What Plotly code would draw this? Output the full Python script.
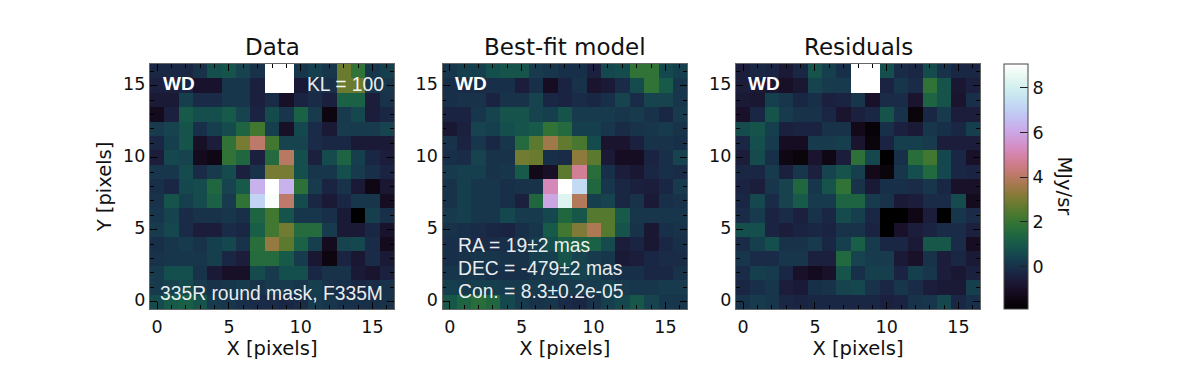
import math
import plotly.graph_objects as go

X_CELLS = list(range(17))
Y_CELLS = list(range(17))
W = None

# rows listed from y=16 (top) down to y=0
data_rows = [
 [-0.25,-0.25,-0.25,0.05,0.75,0.85,0.45,0.05,W,W,0.15,0.35,0.15,2.8,1.9,0.15,0.35],
 [-0.45,-0.45,-0.35,-0.9,-0.9,0.15,0.15,-0.45,W,W,-0.65,-0.05,-0.05,2.8,2.8,0.15,0.15],
 [-0.65,-0.65,0.35,-0.15,-0.15,0.15,0.15,-0.45,-0.15,-1.0,-0.35,-0.15,-0.45,1.25,1.25,-0.55,0.05],
 [-1.2,-0.45,1.05,0.75,0.75,1.05,0.45,-0.35,0.65,0.15,1.25,0.25,-1.5,0.25,0.55,-0.55,-0.25],
 [0.25,0.45,0.85,-0.05,0.35,0.65,1.35,2.2,0.35,-1.0,0.55,-0.15,-0.65,0.25,0.25,0.25,0.45],
 [-0.25,0.35,0.85,-1.0,-0.55,1.9,3.0,4.1,2.2,0.45,0.45,-0.15,-0.25,-0.25,-0.65,-0.65,-0.65],
 [-0.55,0.55,0.45,-1.2,-1.4,1.9,1.45,-0.45,1.55,4.0,0.75,-0.45,0.65,1.35,0.35,-0.25,-0.55],
 [0.15,0.15,0.65,-0.15,0.25,0.65,-0.45,0.05,3.0,3.0,0.75,0.15,0.15,0.75,0.25,-0.05,-0.35],
 [-0.05,-0.25,0.55,0.65,1.45,0.45,1.05,6.3,9.5,6.3,1.8,0.25,-0.35,0.05,-0.65,-1.4,-0.75],
 [0.05,0.85,0.35,0.65,1.25,0.25,1.9,7.1,8.9,4.1,0.65,-0.25,-0.65,-0.25,0.15,0.15,-1.1],
 [0.15,0.45,-0.15,0.05,0.05,0.15,-0.05,1.35,2.2,0.85,0.15,0.15,-0.05,-0.65,-1.9,0.35,-0.05],
 [0.25,0.55,-0.15,-0.55,-0.55,-0.15,-0.25,1.15,2.2,2.9,1.6,1.6,0.25,-0.65,-0.65,-0.25,-0.9],
 [-0.05,0.15,0.25,0.05,0.35,0.55,0.05,1.7,3.4,2.6,1.25,0.35,-1.2,0.45,0.55,-0.15,-1.2],
 [0.05,0.15,0.15,0.15,0.35,-0.25,-0.55,1.6,1.6,1.05,0.25,-0.75,-1.5,-0.35,-0.75,-0.15,-0.65],
 [0.25,0.75,0.75,0.05,-0.65,-1.0,-1.0,0.65,0.25,0.75,0.75,-0.25,0.05,0.05,-0.65,-0.85,-0.45],
 [0.25,0.45,0.65,0.25,0.05,0.15,0.25,0.05,0.25,0.25,0.15,0.35,0.05,-0.05,-0.25,-0.15,0.05],
 [0.65,1.05,1.15,0.85,0.25,0.15,-0.05,-0.15,-0.15,-0.25,-0.15,0.25,0.15,-0.05,-0.05,-0.05,0.05],
]
model_rows = [
 [0.15,0.35,0.35,0.75,0.85,0.85,0.25,0.15,-0.05,-0.05,-0.45,0.55,0.65,1.9,1.9,0.55,0.35],
 [-0.05,-0.15,-0.15,-0.05,-0.05,-0.55,-0.05,-1.1,-0.35,0.05,-0.85,-0.65,-0.15,0.65,1.9,1.05,0.15],
 [-0.05,0.05,0.05,-0.35,0.05,0.05,0.45,-0.25,-0.35,-0.15,-0.25,-0.05,0.45,-0.15,0.45,0.45,0.15],
 [-0.35,-0.35,0.15,0.45,0.85,0.85,0.45,0.35,0.85,0.25,0.25,0.25,0.15,0.25,0.05,-0.25,0.25],
 [-0.75,-0.45,0.45,0.35,0.75,0.85,1.05,1.9,1.55,0.35,0.35,0.15,-0.15,0.05,0.15,0.25,0.05],
 [0.05,-0.35,0.15,-0.25,0.15,1.55,2.6,3.6,2.7,2.3,0.65,-0.85,-0.85,-0.45,0.05,0.05,-0.05],
 [-0.05,-0.15,0.45,0.05,0.05,2.9,2.8,-0.05,-0.15,3.3,2.6,-0.65,-1.1,-1.1,-0.35,-0.05,0.45],
 [0.25,0.35,0.35,0.05,0.15,1.05,-1.3,-1.0,2.6,4.7,1.7,-0.05,-0.55,-0.75,-0.25,-0.05,-0.15],
 [0.05,0.35,0.15,0.15,-0.05,0.05,0.05,5.2,9.5,7.3,1.45,0.15,-0.25,-0.45,-0.55,-0.25,0.25],
 [0.05,0.35,0.15,0.15,-0.05,-0.45,1.45,6.0,8.3,3.9,0.35,0.45,-0.25,0.05,-0.65,-0.05,0.05],
 [0.25,0.35,0.15,0.15,0.55,0.25,0.25,0.55,1.45,0.95,2.5,2.5,1.05,0.15,0.15,0.15,0.15],
 [0.05,-0.05,-0.15,-0.25,-0.35,-0.05,0.15,1.05,2.2,3.1,3.8,2.5,0.85,0.05,-0.75,-0.05,0.05],
 [-0.05,-0.05,-0.15,-0.15,-0.05,0.05,0.25,0.75,1.15,1.25,1.25,0.65,-0.55,-0.35,-0.75,-0.25,-0.05],
 [-0.05,0.05,0.15,0.15,0.05,0.05,0.35,0.35,0.85,0.45,0.25,0.15,-0.65,-0.55,-0.25,-0.15,-0.15],
 [0.15,0.15,0.15,-0.05,-0.05,-0.05,0.15,0.25,0.35,0.45,0.35,0.15,-0.05,-0.05,-0.25,-0.25,0.05],
 [0.35,0.25,0.35,0.35,0.25,0.25,0.25,0.15,0.25,0.25,0.25,0.35,0.25,0.15,0.15,0.25,0.25],
 [0.95,1.35,1.7,1.45,0.55,0.25,0.05,0.15,-0.15,-0.25,0.05,0.35,0.55,0.95,0.45,0.15,0.15],
]
resid_rows = [
 [-0.55,-0.25,-0.35,-0.65,-0.25,0.85,0.35,-0.05,W,W,0.75,-0.15,-0.25,0.65,0.05,-0.25,-0.25],
 [-0.55,-0.65,-0.75,-1.0,-0.75,0.45,0.25,0.25,W,W,-0.35,0.15,-0.15,1.9,0.85,-0.75,-0.45],
 [-0.65,-0.75,0.35,0.15,-0.25,-0.05,-0.45,-0.35,0.15,-0.95,-0.15,-0.15,-0.85,1.35,0.85,-0.85,-0.05],
 [-0.95,-0.25,0.85,0.25,0.05,0.05,-0.25,-0.85,-0.45,-0.25,0.85,0.05,-1.6,-0.25,0.25,-0.55,-0.55],
 [0.65,0.85,0.35,-0.45,-0.35,-0.35,0.05,0.05,-1.3,-1.7,-0.05,-0.45,-0.65,0.15,-0.05,-0.25,0.35],
 [-0.25,0.75,0.25,-1.1,-1.1,0.25,0.25,0.35,-0.85,-1.6,-0.35,0.35,0.35,0.25,-0.55,-0.55,-0.55],
 [-0.55,0.65,-0.05,-1.4,-1.6,-0.85,-1.4,-0.55,1.8,0.55,-2,-0.05,1.7,2.2,0.55,-0.25,-0.95],
 [-0.25,-0.25,0.25,-0.45,0.15,-0.45,0.45,0.85,0.35,-1.3,-1.6,0.15,0.75,1.5,0.55,-0.25,-0.35],
 [-0.35,-0.55,0.15,0.45,1.45,0.15,0.85,1.9,0.05,-0.65,-0.05,-0.05,-0.15,0.15,-0.25,-0.95,-0.95],
 [-0.25,0.55,-0.15,0.45,1.05,0.25,0.25,1.35,1.35,0.25,0.05,-0.65,-0.55,-0.15,-0.15,0.65,-1.2],
 [-0.15,0.25,-0.35,-0.15,-0.45,0.05,-0.25,0.65,0.35,-0.25,-2,-2,-1.4,-0.55,-2,0.15,-0.15],
 [0.75,0.75,-0.35,-0.55,-0.35,-0.25,-0.35,0.05,0.05,-0.35,-2,-0.95,-0.55,-0.35,-0.15,-0.15,-0.45],
 [-0.15,0.35,0.75,0.05,0.05,0.25,-0.25,0.35,1.15,0.25,-0.25,-0.25,-0.65,0.95,0.95,-0.15,-1.1],
 [0.15,-0.15,-0.15,0.15,0.15,-0.45,-0.45,1.5,0.45,0.25,0.25,-0.65,-0.95,0.05,-0.55,-0.25,-0.65],
 [-0.15,0.35,0.25,-0.25,-0.95,-1.2,-0.95,0.85,-0.05,0.35,0.35,-0.35,0.35,0.15,-0.55,-0.75,-0.45],
 [-0.25,-0.05,0.15,-0.55,-0.65,-0.05,0.05,0.45,0.55,0.05,-0.25,0.15,-0.15,-0.55,-0.65,-0.65,0.35],
 [0.05,0.25,0.15,-0.25,-0.35,-0.25,-0.25,-0.25,-0.25,-0.25,-0.45,-0.35,0.05,0.15,0.55,-0.25,-0.05],
]

TITLES = ["Data", "Best-fit model", "Residuals"]
XTITLE = "X [pixels]"
YTITLE = "Y [pixels]"
CBAR_TITLE = "MJy/sr"
CBAR_TICKS = [0, 2, 4, 6, 8]
CBAR_MINOR = [-1.5, -1, -0.5, 0.5, 1, 1.5, 2.5, 3, 3.5, 4.5, 5, 5.5, 6.5, 7, 7.5, 8.5, 9]
ZMIN, ZMAX = -1.89, 9.06
SIZE_W, SIZE_H = 1196, 384
PANEL_X = [(150, 394), (442.5, 687), (736, 980)]
PANEL_Y = (64, 309)


def cubehelix(n=64, g=1.0, s=0.5, r=-1.5, h=1.0):
    out = []
    for i in range(n):
        x = i / (n - 1)
        phi = 2 * math.pi * (s / 3 + r * x)
        xg = x ** g
        a = h * xg * (1 - xg) / 2
        c, sn = math.cos(phi), math.sin(phi)
        R = xg + a * (-0.14861 * c + 1.78277 * sn)
        G = xg + a * (-0.29227 * c - 0.90649 * sn)
        B = xg + a * (1.97294 * c)
        clip = lambda v: int(round(255 * min(1, max(0, v))))
        out.append([x, f"rgb({clip(R)},{clip(G)},{clip(B)})"])
    return out


SCALE = cubehelix()
fig = go.Figure()
TICK = "#000"
FONT = "DejaVu Sans"
LABEL_SIZE = 19.5
TICK_SIZE = 17.5
CB_POS = dict(x=1004 / SIZE_W, xanchor="left", xref="paper", y=1 - 309 / SIZE_H, yanchor="bottom",
              yref="paper", len=245 / SIZE_H, lenmode="fraction", thickness=24, thicknessmode="pixels",
              xpad=0, ypad=0)
for i, rows in enumerate([data_rows, model_rows, resid_rows]):
    sx = "" if i == 0 else str(i + 1)
    fig.add_trace(go.Heatmap(
        z=rows[::-1], x=X_CELLS, y=Y_CELLS, xaxis="x" + sx, yaxis="y" + sx,
        zmin=ZMIN, zmax=ZMAX, colorscale=SCALE, zsmooth=False,
        showscale=(i == 0), hoverongaps=False,
        colorbar=dict(
            CB_POS, outlinecolor="#444", outlinewidth=1, ticks="inside", ticklen=8, tickcolor="#222",
            tickwidth=1.2, tickvals=CBAR_TICKS,
            tickfont=dict(family=FONT, size=TICK_SIZE, color="#111"),
        ),
    ))
    ax = dict(range=[-0.5, 16.5], tickvals=[0, 5, 10, 15], ticks="inside", ticklen=7, tickwidth=1.2,
              tickcolor=TICK, showgrid=False, zeroline=False, showline=True, linecolor="#666",
              linewidth=1.2, mirror="allticks",
              minor=dict(dtick=1, ticks="inside", ticklen=3.5, tickcolor=TICK, tickwidth=1, showgrid=False),
              tickfont=dict(family=FONT, size=TICK_SIZE, color="#111"))
    a, b = PANEL_X[i]
    fig.layout["xaxis" + sx] = dict(ax, domain=[a / SIZE_W, b / SIZE_W], anchor="y" + sx, ticklabelstandoff=2,
                                    title=dict(text=XTITLE, font=dict(family=FONT, size=LABEL_SIZE, color="#111"), standoff=5))
    yd = dict(ax, domain=[1 - PANEL_Y[1] / SIZE_H, 1 - PANEL_Y[0] / SIZE_H], anchor="x" + sx, ticklabelshift=-2)
    if i == 0:
        yd["title"] = dict(text=YTITLE, font=dict(family=FONT, size=LABEL_SIZE, color="#111"), standoff=6)
    fig.layout["yaxis" + sx] = yd
    fig.add_annotation(text=TITLES[i], x=(a + b) / 2 / SIZE_W, y=1 - 62.5 / SIZE_H, xref="paper", yref="paper",
                       xanchor="center", yanchor="bottom", showarrow=False,
                       font=dict(family=FONT, size=23, color="#111"))
    fig.add_annotation(text="<b>WD</b>", x=(a + 10.5) / SIZE_W, y=1 - 83 / SIZE_H, xref="paper", yref="paper",
                       xanchor="left", yanchor="middle", showarrow=False,
                       font=dict(family="Liberation Sans", size=19, color="white"))

# transparent overlay colorbar that only contributes the minor tick marks
fig.add_trace(go.Heatmap(
    z=[[None]], xaxis="x", yaxis="y", zmin=ZMIN, zmax=ZMAX, hoverinfo="skip",
    colorscale=[[0, "rgba(0,0,0,0)"], [1, "rgba(0,0,0,0)"]], showscale=True,
    colorbar=dict(CB_POS, outlinewidth=0, ticks="inside", ticklen=4, tickcolor="#222", tickwidth=1,
                  tickvals=CBAR_MINOR, showticklabels=False),
))

TXT = dict(xref="paper", yref="paper", xanchor="left", yanchor="middle", showarrow=False,
           font=dict(family="Liberation Sans", size=19.3, color="rgba(255,255,255,0.93)"))
for text, px, py in [("KL = 100", 305, 84), ("335R round mask, F335M", 158, 293),
                     ("RA = 19±2 mas", 456, 245), ("DEC = -479±2 mas", 456, 268),
                     ("Con. = 8.3±0.2e-05", 456, 291)]:
    fig.add_annotation(text=text, x=px / SIZE_W, y=1 - py / SIZE_H, **TXT)

fig.add_annotation(text=CBAR_TITLE, x=1064 / SIZE_W, y=1 - 186.5 / SIZE_H, xref="paper", yref="paper",
                   xanchor="center", yanchor="middle", textangle=90, showarrow=False,
                   font=dict(family=FONT, size=LABEL_SIZE, color="#111"))

fig.update_layout(width=SIZE_W, height=SIZE_H, margin=dict(l=0, r=0, t=0, b=0),
                  paper_bgcolor="white", plot_bgcolor="white", showlegend=False)
fig.write_html("out.html", config={"displayModeBar": False},
               post_script="document.body.style.margin='0';document.body.style.overflow='hidden';")
